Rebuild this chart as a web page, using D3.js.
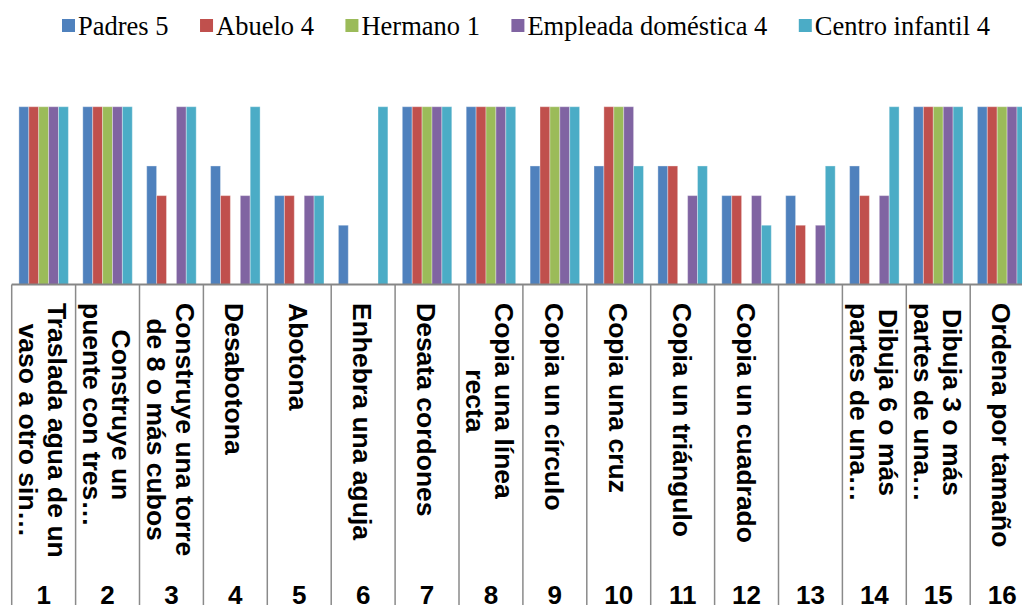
<!DOCTYPE html>
<html>
<head>
<meta charset="utf-8">
<script src="https://cdn.jsdelivr.net/npm/d3@7"></script>
<style>
  body { margin: 0; background: #fff; }
</style>
</head>
<body>
<div id="chart_area"></div>
<script>
var series = ["Padres 5", "Abuelo 4", "Hermano 1", "Empleada doméstica 4", "Centro infantil 4"];
var colors = ["#4F81BD", "#C0504D", "#9BBB59", "#8064A2", "#4BACC6"];
var numbers = ["1", "2", "3", "4", "5", "6", "7", "8", "9", "10", "11", "12", "13", "14", "15", "16"];
var labels = [
    "Traslada agua de un\nvaso a otro sin…",
    "Construye un\npuente con tres…",
    "Construye una torre\nde 8 o más cubos",
    "Desabotona",
    "Abotona",
    "Enhebra una aguja",
    "Desata cordones",
    "Copia una línea\nrecta",
    "Copia un círculo",
    "Copia una cruz",
    "Copia un triángulo",
    "Copia un cuadrado",
    "",
    "Dibuja 6 o más\npartes de una…",
    "Dibuja 3 o más\npartes de una…",
    "Ordena por tamaño"
];
var padres    = [6, 6, 4, 4, 3, 2, 6, 6, 4, 4, 4, 3, 3, 4, 6, 6];
var abuelo    = [6, 6, 3, 3, 3, 0, 6, 6, 6, 6, 4, 3, 2, 3, 6, 6];
var hermano   = [6, 6, 0, 0, 0, 0, 6, 6, 6, 6, 0, 0, 0, 0, 6, 6];
var empleada  = [6, 6, 6, 3, 3, 0, 6, 6, 6, 6, 3, 3, 2, 3, 6, 6];
var centro    = [6, 6, 6, 6, 3, 6, 6, 6, 6, 4, 4, 2, 4, 6, 6, 6];
var values = [padres, abuelo, hermano, empleada, centro];

function drawChart() {
    var width = 1022, height = 605;
    var baseY = 284.5;

    var svg = d3.select("#chart_area")
        .append("svg")
        .attr("width", width)
        .attr("height", height);

    // the plot runs past the right edge, the last group is cut like in the picture
    var x0 = d3.scaleBand()
        .domain(numbers)
        .range([11.7, 1034.1])
        .paddingInner(0)
        .paddingOuter(0);

    var x1 = d3.scaleBand()
        .domain(d3.range(series.length))
        .range([7.2, x0.bandwidth() - 7.2]);

    var y = d3.scaleLinear()
        .domain([0, 6])
        .range([baseY, 106.7]);

    var rows = [];
    numbers.forEach(function (n, i) {
        values.forEach(function (s, j) {
            rows.push({ cat: n, s: j, v: s[i] });
        });
    });

    svg.append("g")
        .selectAll("rect")
        .data(rows.filter(function (d) { return d.v > 0; }))
        .enter()
        .append("rect")
        .attr("x", function (d) { return x0(d.cat) + x1(d.s); })
        .attr("y", function (d) { return y(d.v); })
        .attr("width", x1.bandwidth())
        .attr("height", function (d) { return baseY - y(d.v); })
        .attr("fill", function (d) { return colors[d.s]; })
        .attr("stroke", "#fff")
        .attr("stroke-opacity", 0.35)
        .attr("stroke-width", 1);

    // category dividers down through the label area
    var bounds = numbers.map(function (n) { return x0(n); });
    bounds.push(x0.range()[1]);
    svg.append("g")
        .selectAll("line")
        .data(bounds)
        .enter()
        .append("line")
        .attr("x1", function (d) { return d; })
        .attr("x2", function (d) { return d; })
        .attr("y1", baseY)
        .attr("y2", height)
        .attr("stroke", "#8a8a8a")
        .attr("stroke-width", 1.5);

    svg.append("line")
        .attr("x1", x0.range()[0])
        .attr("x2", width)
        .attr("y1", baseY)
        .attr("y2", baseY)
        .attr("stroke", "#868686")
        .attr("stroke-width", 2);

    // rotated task labels
    var lh = 29;
    var labelG = svg.append("g")
        .attr("font-family", "'Liberation Sans', Arial, sans-serif")
        .attr("font-weight", "bold")
        .attr("font-size", 26.5)
        .attr("fill", "#000");

    labels.forEach(function (lab, i) {
        if (!lab) return;
        var lines = lab.split("\n");
        var cx = x0(numbers[i]) + x0.bandwidth() / 2;
        var texts = lines.map(function (ln, k) {
            var bx = cx - 10 + (lines.length - 1) * lh / 2 - k * lh;
            return labelG.append("text")
                .attr("transform", "translate(" + bx + ",0) rotate(90)")
                .text(ln);
        });
        var maxLen = d3.max(texts, function (t) { return t.node().getComputedTextLength(); });
        texts.forEach(function (t) {
            t.attr("x", 303 + maxLen / 2)
                .attr("y", 0)
                .attr("text-anchor", "middle");
        });
    });

    svg.append("g")
        .attr("font-family", "'Liberation Sans', Arial, sans-serif")
        .attr("font-weight", "bold")
        .attr("font-size", 26)
        .selectAll("text")
        .data(numbers)
        .enter()
        .append("text")
        .attr("x", function (d) { return x0(d) + x0.bandwidth() / 2; })
        .attr("y", 604)
        .attr("text-anchor", "middle")
        .text(function (d) { return d; });

    // legend
    var legend = svg.append("g")
        .attr("font-family", "'Liberation Serif', 'Times New Roman', serif")
        .attr("font-size", 26.5);
    var lx = 62;
    series.forEach(function (name, i) {
        legend.append("rect")
            .attr("x", lx)
            .attr("y", 19)
            .attr("width", 13)
            .attr("height", 13)
            .attr("fill", colors[i]);
        var t = legend.append("text")
            .attr("x", lx + 16)
            .attr("y", 35)
            .text(name);
        lx += 16 + t.node().getComputedTextLength() + 31.5;
    });
}

drawChart();
</script>
</body>
</html>
